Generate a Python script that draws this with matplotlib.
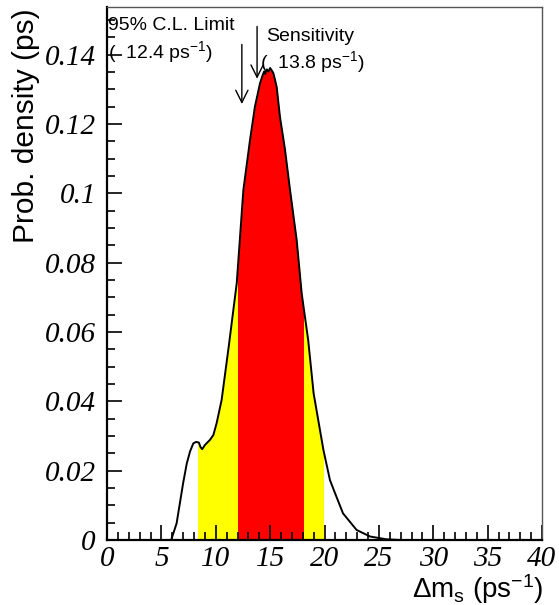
import matplotlib
matplotlib.use('Agg')
import matplotlib.pyplot as plt
from matplotlib.patches import Rectangle
from matplotlib.ticker import MultipleLocator, FuncFormatter

# curve (dm_s in ps^-1, probability density)
dms = [0, 5.9, 6.4, 7.0, 7.33, 7.63, 7.94, 8.2, 8.45, 8.6, 8.75, 9.0, 9.47, 9.78,
       10.08, 10.54, 11.2, 11.93, 12.54, 13.15, 13.6, 14.07, 14.3, 14.45, 14.55,
       14.7, 14.85, 15.0, 15.15, 15.3, 15.6, 15.9, 16.37, 16.83, 17.44, 17.9,
       18.5, 19.0, 19.9, 20.5, 20.97, 21.7, 22.95, 24.2, 25.7, 27, 40]
density = [0, 0, 0.0048, 0.0164, 0.022, 0.0255, 0.0279, 0.0283, 0.0281, 0.0268,
           0.0262, 0.0274, 0.0289, 0.0303, 0.0337, 0.0404, 0.056, 0.0741, 0.101,
           0.1154, 0.125, 0.1318, 0.134, 0.1352, 0.1345, 0.1358, 0.1352, 0.1362,
           0.1355, 0.1347, 0.1308, 0.1222, 0.1126, 0.101, 0.0866, 0.0712, 0.0577,
           0.0423, 0.026, 0.0173, 0.0135, 0.0077, 0.0029, 0.001, 0.0002, 0, 0]

band95 = (8.4, 19.9)
band68 = (12.0, 18.0)
limit = 12.4
sensitivity = 13.8

W, H = 559, 605
fig = plt.figure(figsize=(W / 100, H / 100), dpi=100)
ax = fig.add_axes([107 / W, 1 - 540 / H, 435 / W, 533 / H])
ax.set_xlim(0, 40)
ax.set_ylim(0, 0.1538)

# coloured bands clipped to the area under the curve
for (lo, hi), col in [(band95, '#ffff00'), (band68, '#ff0000')]:
    poly = ax.fill_between(dms, density, 0, color=col, lw=0)
    clip = Rectangle((lo, 0), hi - lo, 1, transform=ax.transData)
    poly.set_clip_path(clip)

ax.plot(dms, density, color='black', lw=1.4)

# arrows
ax.annotate('', xy=(limit, 0.125), xytext=(limit, 0.1438),
            arrowprops=dict(arrowstyle='->', color='black', lw=1, mutation_scale=22))
ax.annotate('', xy=(sensitivity, 0.1323), xytext=(sensitivity, 0.149),
            arrowprops=dict(arrowstyle='->', color='black', lw=1, mutation_scale=22))

sans = 'Liberation Sans'
fs = 14
ax.text(0.05, 0.1508, '95% C.L. Limit', family=sans, fontsize=fs, va='top', ha='left')
ax.text(0.05, 0.1446, '(  12.4 ps$\\mathregular{^{-1}}$)', family=sans, fontsize=fs, va='top', ha='left')
ax.text(14.65, 0.1478, 'Sensitivity', family=sans, fontsize=fs, va='top', ha='left')
ax.text(14.1, 0.1416, '(  13.8 ps$\\mathregular{^{-1}}$)', family=sans, fontsize=fs, va='top', ha='left')

# axes style
for s in ['left', 'bottom']:
    ax.spines[s].set_linewidth(1.6)
for s in ['top', 'right']:
    ax.spines[s].set_color('#555555')
    ax.spines[s].set_linewidth(1.0)

ax.xaxis.set_major_locator(MultipleLocator(5))
ax.xaxis.set_minor_locator(MultipleLocator(1))
ax.yaxis.set_major_locator(MultipleLocator(0.02))
ax.yaxis.set_minor_locator(MultipleLocator(0.005))
ax.yaxis.set_major_formatter(FuncFormatter(lambda v, p: '%g' % round(v, 3)))
ax.tick_params(which='major', direction='in', length=11, width=1.2)
ax.tick_params(which='minor', direction='in', length=5.5, width=1.2)
ax.tick_params(axis='x', pad=4)
ax.tick_params(axis='y', pad=8)
for lab in ax.get_xticklabels() + ax.get_yticklabels():
    lab.set_family('Liberation Serif')
    lab.set_style('italic')
    lab.set_fontsize(21)

fig.text(26 / W, 1 - 8 / H, 'Prob. density (ps)', family=sans, fontsize=21.5,
         rotation=90, ha='center', va='top')
fig.text(543 / W, 1 - 589 / H, '$\\mathregular{\\Delta m_s}$ (ps$\\mathregular{^{-1}}$)',
         family=sans, fontsize=20, ha='right', va='center')

fig.savefig('out.png', dpi=100)
